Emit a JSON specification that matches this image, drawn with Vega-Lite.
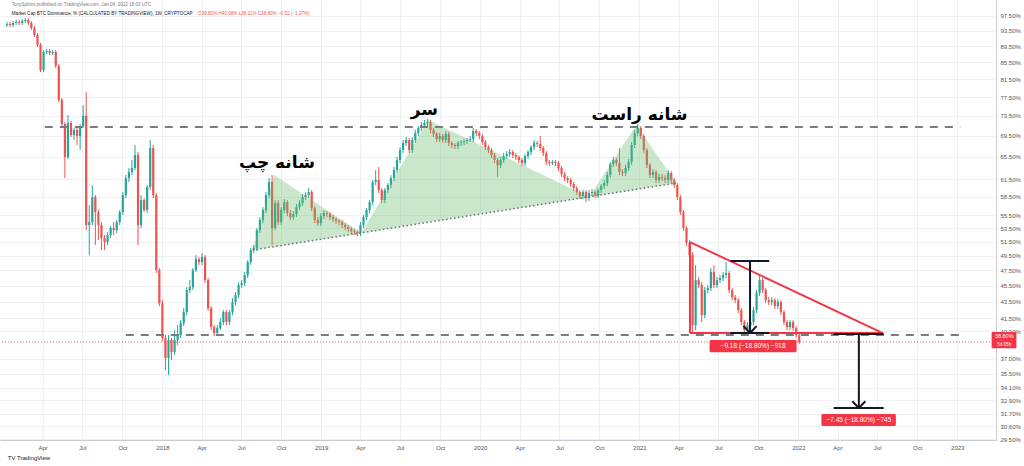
{
"$schema":"https://vega.github.io/schema/vega-lite/v6.json",
"width":996,"height":440,"autosize":"none","padding":{"left":0,"top":0,"right":28,"bottom":26},
"background":"#ffffff",
"config":{"view":{"stroke":null},"font":"Liberation Sans"},
"datasets":{
"candles":[
{"d":"2017-01-09","o":95.05,"h":95.86,"l":94.51,"c":95.32},
{"d":"2017-01-16","o":95.32,"h":95.86,"l":94.51,"c":95.05},
{"d":"2017-01-23","o":95.05,"h":96.13,"l":94.51,"c":95.59},
{"d":"2017-01-30","o":95.59,"h":96.40,"l":95.05,"c":95.86},
{"d":"2017-02-06","o":95.86,"h":96.40,"l":95.05,"c":95.59},
{"d":"2017-02-13","o":95.59,"h":96.68,"l":95.05,"c":96.13},
{"d":"2017-02-20","o":96.13,"h":96.95,"l":95.59,"c":96.40},
{"d":"2017-02-27","o":96.40,"h":96.95,"l":95.05,"c":95.59},
{"d":"2017-03-06","o":95.59,"h":96.13,"l":93.71,"c":94.25},
{"d":"2017-03-13","o":94.25,"h":94.78,"l":91.88,"c":92.40},
{"d":"2017-03-20","o":92.40,"h":92.92,"l":89.32,"c":89.83},
{"d":"2017-03-27","o":89.83,"h":90.34,"l":83.22,"c":83.69},
{"d":"2017-04-03","o":83.69,"h":88.56,"l":83.22,"c":88.06},
{"d":"2017-04-10","o":88.06,"h":88.81,"l":87.57,"c":88.31},
{"d":"2017-04-17","o":88.31,"h":88.81,"l":87.32,"c":87.81},
{"d":"2017-04-24","o":87.81,"h":88.56,"l":87.32,"c":88.06},
{"d":"2017-05-01","o":88.06,"h":88.56,"l":84.16,"c":84.64},
{"d":"2017-05-08","o":84.64,"h":85.12,"l":76.45,"c":76.88},
{"d":"2017-05-15","o":76.88,"h":77.32,"l":71.44,"c":71.85},
{"d":"2017-05-22","o":71.85,"h":72.25,"l":61.67,"c":65.44},
{"d":"2017-05-29","o":65.44,"h":73.69,"l":65.08,"c":72.05},
{"d":"2017-06-05","o":72.05,"h":72.46,"l":69.25,"c":69.65},
{"d":"2017-06-12","o":69.65,"h":71.04,"l":68.67,"c":70.64},
{"d":"2017-06-19","o":70.64,"h":71.04,"l":67.71,"c":69.45},
{"d":"2017-06-26","o":69.45,"h":71.85,"l":66.75,"c":71.44},
{"d":"2017-07-03","o":71.44,"h":75.81,"l":71.04,"c":73.49},
{"d":"2017-07-10","o":73.49,"h":78.64,"l":53.24,"c":54.00},
{"d":"2017-07-17","o":54.00,"h":57.14,"l":49.61,"c":54.46},
{"d":"2017-07-24","o":54.46,"h":60.46,"l":54.00,"c":58.44},
{"d":"2017-07-31","o":58.44,"h":58.78,"l":51.04,"c":56.02},
{"d":"2017-08-07","o":56.02,"h":56.34,"l":51.76,"c":54.00},
{"d":"2017-08-14","o":54.00,"h":54.46,"l":50.32,"c":52.05},
{"d":"2017-08-21","o":52.05,"h":52.50,"l":50.32,"c":51.47},
{"d":"2017-08-28","o":51.47,"h":52.94,"l":51.04,"c":52.50},
{"d":"2017-09-04","o":52.50,"h":53.85,"l":52.05,"c":53.55},
{"d":"2017-09-11","o":53.55,"h":54.46,"l":52.50,"c":53.24},
{"d":"2017-09-18","o":53.24,"h":54.77,"l":52.80,"c":54.46},
{"d":"2017-09-25","o":54.46,"h":56.34,"l":54.00,"c":56.02},
{"d":"2017-10-02","o":56.02,"h":59.28,"l":55.55,"c":58.78},
{"d":"2017-10-09","o":58.78,"h":62.20,"l":58.28,"c":61.67},
{"d":"2017-10-16","o":61.67,"h":63.44,"l":60.98,"c":62.73},
{"d":"2017-10-23","o":62.73,"h":64.89,"l":62.20,"c":63.44},
{"d":"2017-10-30","o":63.44,"h":67.71,"l":63.08,"c":65.81},
{"d":"2017-11-06","o":65.81,"h":66.37,"l":51.04,"c":54.00},
{"d":"2017-11-13","o":54.00,"h":58.78,"l":53.55,"c":57.95},
{"d":"2017-11-20","o":57.95,"h":58.28,"l":56.02,"c":56.34},
{"d":"2017-11-27","o":56.34,"h":60.46,"l":55.86,"c":60.12},
{"d":"2017-12-04","o":60.12,"h":68.67,"l":59.61,"c":67.13},
{"d":"2017-12-11","o":67.13,"h":67.71,"l":58.28,"c":58.78},
{"d":"2017-12-18","o":58.78,"h":59.11,"l":47.15,"c":47.55},
{"d":"2017-12-25","o":47.55,"h":47.82,"l":42.95,"c":43.31},
{"d":"2018-01-01","o":43.31,"h":43.68,"l":38.91,"c":39.24},
{"d":"2018-01-08","o":39.24,"h":39.57,"l":35.84,"c":37.08},
{"d":"2018-01-15","o":37.08,"h":39.57,"l":35.34,"c":39.02},
{"d":"2018-01-22","o":39.02,"h":39.24,"l":36.87,"c":37.71},
{"d":"2018-01-29","o":37.71,"h":40.13,"l":37.40,"c":39.02},
{"d":"2018-02-05","o":39.02,"h":40.70,"l":38.47,"c":39.57},
{"d":"2018-02-12","o":39.57,"h":41.28,"l":39.24,"c":40.93},
{"d":"2018-02-19","o":40.93,"h":42.71,"l":40.59,"c":42.23},
{"d":"2018-02-26","o":42.23,"h":45.32,"l":41.87,"c":44.94},
{"d":"2018-03-05","o":44.94,"h":46.22,"l":44.56,"c":45.32},
{"d":"2018-03-12","o":45.32,"h":47.82,"l":44.94,"c":47.55},
{"d":"2018-03-19","o":47.55,"h":49.61,"l":47.28,"c":49.05},
{"d":"2018-03-26","o":49.05,"h":49.33,"l":48.23,"c":48.64},
{"d":"2018-04-02","o":48.64,"h":49.89,"l":48.23,"c":49.33},
{"d":"2018-04-09","o":49.33,"h":49.61,"l":45.83,"c":46.22},
{"d":"2018-04-16","o":46.22,"h":46.49,"l":42.35,"c":42.71},
{"d":"2018-04-23","o":42.71,"h":42.95,"l":40.13,"c":40.48},
{"d":"2018-04-30","o":40.48,"h":40.70,"l":39.46,"c":39.80},
{"d":"2018-05-07","o":39.80,"h":40.70,"l":39.46,"c":40.36},
{"d":"2018-05-14","o":40.36,"h":41.51,"l":40.13,"c":41.05},
{"d":"2018-05-21","o":41.05,"h":42.47,"l":40.70,"c":42.23},
{"d":"2018-05-28","o":42.23,"h":42.47,"l":40.70,"c":41.05},
{"d":"2018-06-04","o":41.05,"h":42.47,"l":40.70,"c":42.23},
{"d":"2018-06-11","o":42.23,"h":43.93,"l":41.87,"c":43.44},
{"d":"2018-06-18","o":43.44,"h":44.69,"l":43.07,"c":44.31},
{"d":"2018-06-25","o":44.31,"h":45.96,"l":43.93,"c":45.58},
{"d":"2018-07-02","o":45.58,"h":46.22,"l":45.19,"c":45.83},
{"d":"2018-07-09","o":45.83,"h":47.28,"l":45.45,"c":46.88},
{"d":"2018-07-16","o":46.88,"h":48.91,"l":46.49,"c":48.64},
{"d":"2018-07-23","o":48.64,"h":50.60,"l":48.23,"c":50.32},
{"d":"2018-07-30","o":50.32,"h":51.04,"l":49.89,"c":50.60},
{"d":"2018-08-06","o":50.60,"h":53.55,"l":50.18,"c":53.24},
{"d":"2018-08-13","o":53.24,"h":55.23,"l":52.80,"c":54.77},
{"d":"2018-08-20","o":54.77,"h":56.82,"l":54.30,"c":56.34},
{"d":"2018-08-27","o":56.34,"h":59.28,"l":55.86,"c":58.78},
{"d":"2018-09-03","o":58.78,"h":61.67,"l":58.28,"c":60.98},
{"d":"2018-09-10","o":60.98,"h":62.20,"l":51.04,"c":53.55},
{"d":"2018-09-17","o":53.55,"h":57.95,"l":53.24,"c":57.46},
{"d":"2018-09-24","o":57.46,"h":57.95,"l":54.00,"c":54.46},
{"d":"2018-10-01","o":54.46,"h":56.82,"l":54.00,"c":56.34},
{"d":"2018-10-08","o":56.34,"h":58.12,"l":55.86,"c":57.62},
{"d":"2018-10-15","o":57.62,"h":57.95,"l":55.39,"c":55.86},
{"d":"2018-10-22","o":55.86,"h":56.34,"l":54.77,"c":55.23},
{"d":"2018-10-29","o":55.23,"h":56.18,"l":54.77,"c":55.71},
{"d":"2018-11-05","o":55.71,"h":57.30,"l":55.23,"c":56.82},
{"d":"2018-11-12","o":56.82,"h":57.95,"l":56.34,"c":57.46},
{"d":"2018-11-19","o":57.46,"h":58.94,"l":56.98,"c":58.44},
{"d":"2018-11-26","o":58.44,"h":59.28,"l":57.95,"c":58.78},
{"d":"2018-12-03","o":58.78,"h":59.95,"l":58.28,"c":59.28},
{"d":"2018-12-10","o":59.28,"h":59.61,"l":56.18,"c":56.66},
{"d":"2018-12-17","o":56.66,"h":56.98,"l":54.30,"c":54.77},
{"d":"2018-12-24","o":54.77,"h":55.23,"l":53.85,"c":54.30},
{"d":"2018-12-31","o":54.30,"h":55.86,"l":53.85,"c":55.39},
{"d":"2019-01-07","o":55.39,"h":56.34,"l":54.92,"c":55.86},
{"d":"2019-01-14","o":55.86,"h":56.18,"l":55.23,"c":55.71},
{"d":"2019-01-21","o":55.71,"h":56.02,"l":54.77,"c":55.23},
{"d":"2019-01-28","o":55.23,"h":55.55,"l":54.46,"c":54.92},
{"d":"2019-02-04","o":54.92,"h":55.23,"l":54.15,"c":54.61},
{"d":"2019-02-11","o":54.61,"h":54.92,"l":54.00,"c":54.46},
{"d":"2019-02-18","o":54.46,"h":54.77,"l":53.55,"c":54.00},
{"d":"2019-02-25","o":54.00,"h":54.30,"l":53.24,"c":53.70},
{"d":"2019-03-04","o":53.70,"h":54.00,"l":52.94,"c":53.40},
{"d":"2019-03-11","o":53.40,"h":53.70,"l":52.65,"c":53.09},
{"d":"2019-03-18","o":53.09,"h":53.40,"l":52.50,"c":52.94},
{"d":"2019-03-25","o":52.94,"h":53.24,"l":52.35,"c":52.80},
{"d":"2019-04-01","o":52.80,"h":54.46,"l":52.35,"c":54.00},
{"d":"2019-04-08","o":54.00,"h":55.55,"l":53.55,"c":55.23},
{"d":"2019-04-15","o":55.23,"h":56.66,"l":54.77,"c":56.34},
{"d":"2019-04-22","o":56.34,"h":57.95,"l":55.86,"c":57.62},
{"d":"2019-04-29","o":57.62,"h":61.32,"l":57.14,"c":60.98},
{"d":"2019-05-06","o":60.98,"h":63.08,"l":60.46,"c":61.32},
{"d":"2019-05-13","o":61.32,"h":63.62,"l":59.11,"c":59.61},
{"d":"2019-05-20","o":59.61,"h":59.95,"l":57.46,"c":57.95},
{"d":"2019-05-27","o":57.95,"h":59.95,"l":57.46,"c":59.61},
{"d":"2019-06-03","o":59.61,"h":60.80,"l":59.11,"c":60.46},
{"d":"2019-06-10","o":60.46,"h":62.20,"l":59.95,"c":61.67},
{"d":"2019-06-17","o":61.67,"h":63.62,"l":61.15,"c":63.08},
{"d":"2019-06-24","o":63.08,"h":65.44,"l":62.55,"c":64.89},
{"d":"2019-07-01","o":64.89,"h":67.32,"l":64.34,"c":66.75},
{"d":"2019-07-08","o":66.75,"h":68.67,"l":66.19,"c":68.09},
{"d":"2019-07-15","o":68.09,"h":69.25,"l":67.51,"c":68.67},
{"d":"2019-07-22","o":68.67,"h":69.06,"l":66.19,"c":66.75},
{"d":"2019-07-29","o":66.75,"h":69.25,"l":66.19,"c":68.67},
{"d":"2019-08-05","o":68.67,"h":70.64,"l":68.09,"c":70.04},
{"d":"2019-08-12","o":70.04,"h":71.44,"l":69.45,"c":71.04},
{"d":"2019-08-19","o":71.04,"h":72.25,"l":70.44,"c":71.64},
{"d":"2019-08-26","o":71.64,"h":72.66,"l":71.04,"c":72.05},
{"d":"2019-09-02","o":72.05,"h":72.87,"l":71.44,"c":72.25},
{"d":"2019-09-09","o":72.25,"h":72.66,"l":70.04,"c":70.64},
{"d":"2019-09-16","o":70.64,"h":71.04,"l":69.25,"c":69.84},
{"d":"2019-09-23","o":69.84,"h":70.24,"l":68.28,"c":68.86},
{"d":"2019-09-30","o":68.86,"h":70.04,"l":68.28,"c":69.45},
{"d":"2019-10-07","o":69.45,"h":69.84,"l":68.09,"c":68.67},
{"d":"2019-10-14","o":68.67,"h":70.44,"l":68.09,"c":69.84},
{"d":"2019-10-21","o":69.84,"h":70.24,"l":67.51,"c":68.09},
{"d":"2019-10-28","o":68.09,"h":68.47,"l":67.13,"c":67.71},
{"d":"2019-11-04","o":67.71,"h":68.09,"l":66.94,"c":67.51},
{"d":"2019-11-11","o":67.51,"h":68.47,"l":66.94,"c":68.09},
{"d":"2019-11-18","o":68.09,"h":68.67,"l":67.51,"c":68.28},
{"d":"2019-11-25","o":68.28,"h":68.86,"l":67.71,"c":68.47},
{"d":"2019-12-02","o":68.47,"h":69.06,"l":67.90,"c":68.67},
{"d":"2019-12-09","o":68.67,"h":69.45,"l":68.28,"c":68.86},
{"d":"2019-12-16","o":68.86,"h":71.04,"l":68.28,"c":70.44},
{"d":"2019-12-23","o":70.44,"h":70.84,"l":69.45,"c":70.04},
{"d":"2019-12-30","o":70.04,"h":70.44,"l":68.86,"c":69.45},
{"d":"2020-01-06","o":69.45,"h":69.84,"l":67.71,"c":68.28},
{"d":"2020-01-13","o":68.28,"h":68.67,"l":66.75,"c":67.32},
{"d":"2020-01-20","o":67.32,"h":67.71,"l":66.19,"c":66.75},
{"d":"2020-01-27","o":66.75,"h":67.13,"l":65.26,"c":65.81},
{"d":"2020-02-03","o":65.81,"h":66.19,"l":64.34,"c":64.89},
{"d":"2020-02-10","o":64.89,"h":65.26,"l":61.85,"c":63.98},
{"d":"2020-02-17","o":63.98,"h":65.44,"l":63.44,"c":64.89},
{"d":"2020-02-24","o":64.89,"h":66.19,"l":64.34,"c":65.63},
{"d":"2020-03-02","o":65.63,"h":66.56,"l":65.08,"c":66.00},
{"d":"2020-03-09","o":66.00,"h":66.94,"l":65.44,"c":66.37},
{"d":"2020-03-16","o":66.37,"h":66.75,"l":65.26,"c":65.81},
{"d":"2020-03-23","o":65.81,"h":66.19,"l":64.89,"c":65.44},
{"d":"2020-03-30","o":65.44,"h":65.81,"l":64.34,"c":64.89},
{"d":"2020-04-06","o":64.89,"h":65.26,"l":63.80,"c":64.34},
{"d":"2020-04-13","o":64.34,"h":66.00,"l":63.80,"c":65.63},
{"d":"2020-04-20","o":65.63,"h":66.75,"l":65.08,"c":66.37},
{"d":"2020-04-27","o":66.37,"h":67.71,"l":65.81,"c":67.32},
{"d":"2020-05-04","o":67.32,"h":68.67,"l":66.75,"c":68.09},
{"d":"2020-05-11","o":68.09,"h":68.47,"l":67.32,"c":67.90},
{"d":"2020-05-18","o":67.90,"h":69.45,"l":66.56,"c":67.13},
{"d":"2020-05-25","o":67.13,"h":67.51,"l":65.63,"c":66.19},
{"d":"2020-06-01","o":66.19,"h":66.56,"l":63.98,"c":64.53},
{"d":"2020-06-08","o":64.53,"h":64.89,"l":63.80,"c":64.34},
{"d":"2020-06-15","o":64.34,"h":64.89,"l":63.98,"c":64.53},
{"d":"2020-06-22","o":64.53,"h":64.89,"l":63.80,"c":64.34},
{"d":"2020-06-29","o":64.34,"h":64.71,"l":62.91,"c":63.44},
{"d":"2020-07-06","o":63.44,"h":63.80,"l":61.85,"c":62.37},
{"d":"2020-07-13","o":62.37,"h":62.73,"l":61.15,"c":61.67},
{"d":"2020-07-20","o":61.67,"h":62.02,"l":60.80,"c":61.32},
{"d":"2020-07-27","o":61.32,"h":61.67,"l":60.12,"c":60.63},
{"d":"2020-08-03","o":60.63,"h":60.98,"l":59.44,"c":59.95},
{"d":"2020-08-10","o":59.95,"h":60.29,"l":58.78,"c":59.28},
{"d":"2020-08-17","o":59.28,"h":59.61,"l":58.12,"c":58.61},
{"d":"2020-08-24","o":58.61,"h":59.61,"l":58.12,"c":59.28},
{"d":"2020-08-31","o":59.28,"h":59.61,"l":57.62,"c":58.28},
{"d":"2020-09-07","o":58.28,"h":59.61,"l":57.79,"c":59.11},
{"d":"2020-09-14","o":59.11,"h":59.78,"l":58.61,"c":59.28},
{"d":"2020-09-21","o":59.28,"h":59.61,"l":58.28,"c":58.78},
{"d":"2020-09-28","o":58.78,"h":59.95,"l":58.28,"c":59.61},
{"d":"2020-10-05","o":59.61,"h":60.63,"l":59.11,"c":60.29},
{"d":"2020-10-12","o":60.29,"h":61.32,"l":59.78,"c":60.80},
{"d":"2020-10-19","o":60.80,"h":62.73,"l":60.29,"c":62.20},
{"d":"2020-10-26","o":62.20,"h":64.53,"l":61.67,"c":64.16},
{"d":"2020-11-02","o":64.16,"h":65.44,"l":63.62,"c":64.89},
{"d":"2020-11-09","o":64.89,"h":65.26,"l":63.80,"c":64.34},
{"d":"2020-11-16","o":64.34,"h":67.13,"l":62.20,"c":62.73},
{"d":"2020-11-23","o":62.73,"h":63.26,"l":62.02,"c":62.55},
{"d":"2020-11-30","o":62.55,"h":63.98,"l":62.02,"c":63.44},
{"d":"2020-12-07","o":63.44,"h":65.08,"l":62.91,"c":64.53},
{"d":"2020-12-14","o":64.53,"h":68.28,"l":63.98,"c":67.71},
{"d":"2020-12-21","o":67.71,"h":70.64,"l":67.13,"c":70.04},
{"d":"2020-12-28","o":70.04,"h":71.85,"l":69.45,"c":71.04},
{"d":"2021-01-04","o":71.04,"h":71.44,"l":68.86,"c":69.45},
{"d":"2021-01-11","o":69.45,"h":69.84,"l":66.19,"c":66.75},
{"d":"2021-01-18","o":66.75,"h":67.13,"l":63.44,"c":63.98},
{"d":"2021-01-25","o":63.98,"h":64.34,"l":61.67,"c":62.20},
{"d":"2021-02-01","o":62.20,"h":63.26,"l":61.67,"c":62.73},
{"d":"2021-02-08","o":62.73,"h":63.08,"l":60.80,"c":61.32},
{"d":"2021-02-15","o":61.32,"h":62.37,"l":60.80,"c":61.85},
{"d":"2021-02-22","o":61.85,"h":62.37,"l":61.15,"c":61.67},
{"d":"2021-03-01","o":61.67,"h":62.20,"l":60.80,"c":61.32},
{"d":"2021-03-08","o":61.32,"h":63.08,"l":60.80,"c":62.55},
{"d":"2021-03-15","o":62.55,"h":62.91,"l":60.80,"c":61.32},
{"d":"2021-03-22","o":61.32,"h":61.67,"l":59.95,"c":60.46},
{"d":"2021-03-29","o":60.46,"h":60.80,"l":57.95,"c":58.44},
{"d":"2021-04-05","o":58.44,"h":58.78,"l":55.55,"c":56.02},
{"d":"2021-04-12","o":56.02,"h":56.34,"l":53.09,"c":53.55},
{"d":"2021-04-19","o":53.55,"h":53.85,"l":50.89,"c":51.32},
{"d":"2021-04-26","o":51.32,"h":51.76,"l":49.19,"c":49.61},
{"d":"2021-05-03","o":49.61,"h":50.03,"l":39.91,"c":40.70},
{"d":"2021-05-10","o":40.70,"h":48.23,"l":40.13,"c":46.22},
{"d":"2021-05-17","o":46.22,"h":46.62,"l":45.19,"c":45.58},
{"d":"2021-05-24","o":45.58,"h":45.96,"l":41.05,"c":41.87},
{"d":"2021-05-31","o":41.87,"h":45.32,"l":41.51,"c":44.94},
{"d":"2021-06-07","o":44.94,"h":45.58,"l":44.56,"c":45.19},
{"d":"2021-06-14","o":45.19,"h":47.82,"l":44.81,"c":47.28},
{"d":"2021-06-21","o":47.28,"h":48.23,"l":45.19,"c":45.58},
{"d":"2021-06-28","o":45.58,"h":46.62,"l":45.19,"c":46.22},
{"d":"2021-07-05","o":46.22,"h":46.88,"l":45.83,"c":46.49},
{"d":"2021-07-12","o":46.49,"h":47.28,"l":46.09,"c":46.88},
{"d":"2021-07-19","o":46.88,"h":48.64,"l":46.49,"c":47.15},
{"d":"2021-07-26","o":47.15,"h":47.41,"l":44.56,"c":44.94},
{"d":"2021-08-02","o":44.94,"h":45.19,"l":43.68,"c":44.06},
{"d":"2021-08-09","o":44.06,"h":44.31,"l":43.31,"c":43.68},
{"d":"2021-08-16","o":43.68,"h":43.93,"l":42.11,"c":42.47},
{"d":"2021-08-23","o":42.47,"h":42.71,"l":40.70,"c":41.05},
{"d":"2021-08-30","o":41.05,"h":41.28,"l":39.80,"c":40.13},
{"d":"2021-09-06","o":40.13,"h":41.05,"l":39.80,"c":40.70},
{"d":"2021-09-13","o":40.70,"h":41.40,"l":40.36,"c":41.05},
{"d":"2021-09-20","o":41.05,"h":42.83,"l":40.70,"c":42.47},
{"d":"2021-09-27","o":42.47,"h":44.94,"l":42.11,"c":44.56},
{"d":"2021-10-04","o":44.56,"h":46.88,"l":44.18,"c":46.22},
{"d":"2021-10-11","o":46.22,"h":46.49,"l":44.56,"c":44.94},
{"d":"2021-10-18","o":44.94,"h":45.19,"l":43.31,"c":43.68},
{"d":"2021-10-25","o":43.68,"h":44.06,"l":43.07,"c":43.44},
{"d":"2021-11-01","o":43.44,"h":44.06,"l":43.07,"c":43.68},
{"d":"2021-11-08","o":43.68,"h":43.93,"l":42.59,"c":42.95},
{"d":"2021-11-15","o":42.95,"h":43.81,"l":42.59,"c":43.44},
{"d":"2021-11-22","o":43.44,"h":43.68,"l":41.87,"c":42.23},
{"d":"2021-11-29","o":42.23,"h":42.47,"l":40.70,"c":41.05},
{"d":"2021-12-06","o":41.05,"h":41.28,"l":40.13,"c":40.48},
{"d":"2021-12-13","o":40.48,"h":41.28,"l":40.13,"c":41.05},
{"d":"2021-12-20","o":41.05,"h":41.28,"l":40.02,"c":40.36},
{"d":"2021-12-27","o":40.36,"h":40.59,"l":39.24,"c":39.57},
{"d":"2022-01-03","o":39.57,"h":39.80,"l":38.58,"c":38.80}
],
"hs":[
{"d":"2018-07-27","t":50.32,"n":50.32},
{"d":"2018-09-15","t":62.20,"n":50.80},
{"d":"2019-04-03","t":52.82,"n":52.82},
{"d":"2019-09-04","t":72.66,"n":54.46},
{"d":"2020-09-07","t":58.45,"n":58.45},
{"d":"2020-12-25","t":71.64,"n":59.73},
{"d":"2021-03-26","t":60.80,"n":60.80}
],
"dashed":[
{"x1":"2017-04-06","x2":"2023-01-08","y1":71.24,"y2":71.24},
{"x1":"2017-10-09","x2":"2023-01-15","y1":39.57,"y2":39.57}
],
"neck":[
{"x1":"2018-07-27","x2":"2021-03-26","y1":50.32,"y2":60.80}
],
"tri":[
{"x1":"2021-04-27","x2":"2022-07-14","y1":51.47,"y2":39.80},
{"x1":"2021-04-27","x2":"2022-07-14","y1":39.80,"y2":39.80},
{"x1":"2021-04-27","x2":"2021-04-27","y1":51.47,"y2":39.80}
],
"meas":[
{"x1":"2021-09-12","x2":"2021-09-12","y1":48.78,"y2":39.80},
{"x1":"2021-07-29","x2":"2021-10-26","y1":48.78,"y2":48.78},
{"x1":"2021-07-29","x2":"2021-10-26","y1":39.80,"y2":39.80},
{"x1":"2021-08-28","x2":"2021-09-12","y1":40.59,"y2":39.80},
{"x1":"2021-09-27","x2":"2021-09-12","y1":40.59,"y2":39.80},
{"x1":"2022-05-20","x2":"2022-05-20","y1":39.68,"y2":32.20},
{"x1":"2022-03-23","x2":"2022-07-16","y1":39.68,"y2":39.68},
{"x1":"2022-03-23","x2":"2022-07-16","y1":32.20,"y2":32.20},
{"x1":"2022-05-05","x2":"2022-05-20","y1":32.83,"y2":32.20},
{"x1":"2022-06-04","x2":"2022-05-20","y1":32.83,"y2":32.20}
],
"boxes":[
{"x1":"2021-06-11","x2":"2021-12-28","y1":39.02,"y2":37.71,"xm":"2021-09-19","ym":38.36,"t":"−9.18 (−18.80%) −918"},
{"x1":"2022-02-23","x2":"2022-08-13","y1":31.66,"y2":30.60,"xm":"2022-05-20","ym":31.12,"t":"−7.45 (−18.80%) −745"}
],
"fa":[
{"d":"2018-09-21","v":64.34,"t":"شانه چپ"},
{"d":"2019-08-26","v":74.74,"t":"سر"},
{"d":"2021-01-01","v":73.69,"t":"شانه راست"}
],
"head":[
{"d":"2017-01-20","v":100.58,"t":"TonySplitzo published on TradingView.com, Jan 04, 2022 18:03 UTC","c":"#787b86","s":4.6},
{"d":"2017-01-20","v":98.05,"t":"Market Cap BTC Dominance, % (CALCULATED BY TRADINGVIEW), 1W, CRYPTOCAP","c":"#131722","s":4.6},
{"d":"2018-03-24","v":98.05,"t":"O39.80% H40.08% L38.11% C38.80% −0.51 (−1.27%)","c":"#ef5350","s":4.6},
{"d":"2017-01-11","v":27.96,"t":"TV TradingView","c":"#131722","s":6}
],
"price":[
{"x1":"2023-03-21","x2":"2023-05-17","y1":39.91,"y2":38.14,"xm":"2023-04-19","ya":39.46,"yb":38.47}
]
},
"layer":[
{"data":{"name":"candles"},
 "mark":{"type":"rule","strokeWidth":1,"clip":true},
 "encoding":{
  "x":{"field":"d","type":"temporal","title":null,
   "scale":{"type":"utc","domain":[{"year":2017,"month":1,"date":4,"hours":10,"utc":true},{"year":2023,"month":3,"date":19,"hours":14,"utc":true}]},
   "axis":{"values":[
    {"year":2017,"month":4,"date":1,"utc":true},{"year":2017,"month":7,"date":1,"utc":true},{"year":2017,"month":10,"date":1,"utc":true},
    {"year":2018,"month":1,"date":1,"utc":true},{"year":2018,"month":4,"date":1,"utc":true},{"year":2018,"month":7,"date":1,"utc":true},{"year":2018,"month":10,"date":1,"utc":true},
    {"year":2019,"month":1,"date":1,"utc":true},{"year":2019,"month":4,"date":1,"utc":true},{"year":2019,"month":7,"date":1,"utc":true},{"year":2019,"month":10,"date":1,"utc":true},
    {"year":2020,"month":1,"date":1,"utc":true},{"year":2020,"month":4,"date":1,"utc":true},{"year":2020,"month":7,"date":1,"utc":true},{"year":2020,"month":10,"date":1,"utc":true},
    {"year":2021,"month":1,"date":1,"utc":true},{"year":2021,"month":4,"date":1,"utc":true},{"year":2021,"month":7,"date":1,"utc":true},{"year":2021,"month":10,"date":1,"utc":true},
    {"year":2022,"month":1,"date":1,"utc":true},{"year":2022,"month":4,"date":1,"utc":true},{"year":2022,"month":7,"date":1,"utc":true},{"year":2022,"month":10,"date":1,"utc":true},
    {"year":2023,"month":1,"date":1,"utc":true}],
    "labelExpr":"utcFormat(datum.value,'%m')=='01' ? utcFormat(datum.value,'%Y') : utcFormat(datum.value,'%b')",
    "labelFontSize":6,"labelColor":"#50535e","ticks":false,"labelPadding":4,"domainColor":"#c8cbd2","grid":true,"gridColor":"#eef0f4","labelOverlap":false}},
  "y":{"field":"l","type":"quantitative","title":null,
   "scale":{"type":"log","domain":[29.42,102],"nice":false,"zero":false},
   "axis":{"orient":"right","values":[97.5,93.5,89.5,85.5,81.5,77.5,73.5,69.5,65.5,61.5,58.5,55.5,53.5,51.5,49.5,47.5,45.5,43.5,41.5,40,37,35.5,34.1,32.9,31.7,30.6,29.5],
    "labelExpr":"format(datum.value,'.2f')+'%'","labelFontSize":6,"labelColor":"#50535e","ticks":false,"labelPadding":4,"domainColor":"#c8cbd2","grid":true,"gridColor":"#eef0f4","labelOverlap":false,"labelBaseline":"middle"}},
  "y2":{"field":"h"},
  "color":{"condition":{"test":"datum.c >= datum.o","value":"#26a69a"},"value":"#ef5350"}
 }},
{"data":{"name":"candles"},
 "mark":{"type":"bar","width":2.2,"clip":true},
 "encoding":{
  "x":{"field":"d","type":"temporal","title":null},
  "y":{"field":"o","type":"quantitative","title":null},
  "y2":{"field":"c"},
  "color":{"condition":{"test":"datum.c >= datum.o","value":"#26a69a"},"value":"#ef5350"}
 }},
{"data":{"name":"hs"},
 "mark":{"type":"area","color":"#66bb6a","opacity":0.35},
 "encoding":{
  "x":{"field":"d","type":"temporal","title":null},
  "y":{"field":"t","type":"quantitative","title":null},
  "y2":{"field":"n"}
 }},
{"data":{"name":"neck"},
 "mark":{"type":"rule","color":"#6b6e78","strokeWidth":1.5,"strokeDash":[1.5,2.5]},
 "encoding":{
  "x":{"field":"x1","type":"temporal","title":null},"x2":{"field":"x2"},
  "y":{"field":"y1","type":"quantitative","title":null},"y2":{"field":"y2"}
 }},
{"data":{"name":"dashed"},
 "mark":{"type":"rule","color":"#787b86","strokeWidth":2,"strokeDash":[8,7]},
 "encoding":{
  "x":{"field":"x1","type":"temporal","title":null},"x2":{"field":"x2"},
  "y":{"field":"y1","type":"quantitative","title":null},"y2":{"field":"y2"}
 }},
{"data":{"values":[{"p":38.8}]},
 "mark":{"type":"rule","color":"#f23645","strokeWidth":1,"strokeDash":[1,2],"opacity":0.8},
 "encoding":{"y":{"field":"p","type":"quantitative","title":null}}},
{"data":{"name":"tri"},
 "mark":{"type":"rule","color":"#f23645","strokeWidth":2},
 "encoding":{
  "x":{"field":"x1","type":"temporal","title":null},"x2":{"field":"x2"},
  "y":{"field":"y1","type":"quantitative","title":null},"y2":{"field":"y2"}
 }},
{"data":{"name":"meas"},
 "mark":{"type":"rule","color":"#131722","strokeWidth":2},
 "encoding":{
  "x":{"field":"x1","type":"temporal","title":null},"x2":{"field":"x2"},
  "y":{"field":"y1","type":"quantitative","title":null},"y2":{"field":"y2"}
 }},
{"data":{"name":"boxes"},
 "mark":{"type":"rect","color":"#f23645","cornerRadius":1.5},
 "encoding":{
  "x":{"field":"x1","type":"temporal","title":null},"x2":{"field":"x2"},
  "y":{"field":"y1","type":"quantitative","title":null},"y2":{"field":"y2"}
 }},
{"data":{"name":"boxes"},
 "mark":{"type":"text","color":"#ffffff","fontSize":6.5,"align":"center","baseline":"middle"},
 "encoding":{
  "x":{"field":"xm","type":"temporal","title":null},
  "y":{"field":"ym","type":"quantitative","title":null},
  "text":{"field":"t"}
 }},
{"data":{"name":"fa"},
 "mark":{"type":"text","color":"#000000","fontSize":17,"font":"DejaVu Sans","fontWeight":"bold","align":"center","baseline":"middle"},
 "encoding":{
  "x":{"field":"d","type":"temporal","title":null},
  "y":{"field":"v","type":"quantitative","title":null},
  "text":{"field":"t"}
 }},
{"data":{"name":"head"},
 "mark":{"type":"text","align":"left","baseline":"middle"},
 "encoding":{
  "x":{"field":"d","type":"temporal","title":null},
  "y":{"field":"v","type":"quantitative","title":null},
  "text":{"field":"t"},
  "color":{"field":"c","type":"nominal","scale":null},
  "size":{"field":"s","type":"quantitative","scale":null}
 }},
{"data":{"name":"price"},
 "mark":{"type":"rect","color":"#f23645","cornerRadius":1},
 "encoding":{
  "x":{"field":"x1","type":"temporal","title":null},"x2":{"field":"x2"},
  "y":{"field":"y1","type":"quantitative","title":null},"y2":{"field":"y2"}
 }},
{"data":{"name":"price"},
 "mark":{"type":"text","color":"#ffffff","fontSize":5.5,"align":"center","baseline":"middle","text":"38.80%"},
 "encoding":{
  "x":{"field":"xm","type":"temporal","title":null},
  "y":{"field":"ya","type":"quantitative","title":null}
 }},
{"data":{"name":"price"},
 "mark":{"type":"text","color":"#ffffff","fontSize":4.5,"align":"center","baseline":"middle","text":"5d 05h"},
 "encoding":{
  "x":{"field":"xm","type":"temporal","title":null},
  "y":{"field":"yb","type":"quantitative","title":null}
 }}
]
}
